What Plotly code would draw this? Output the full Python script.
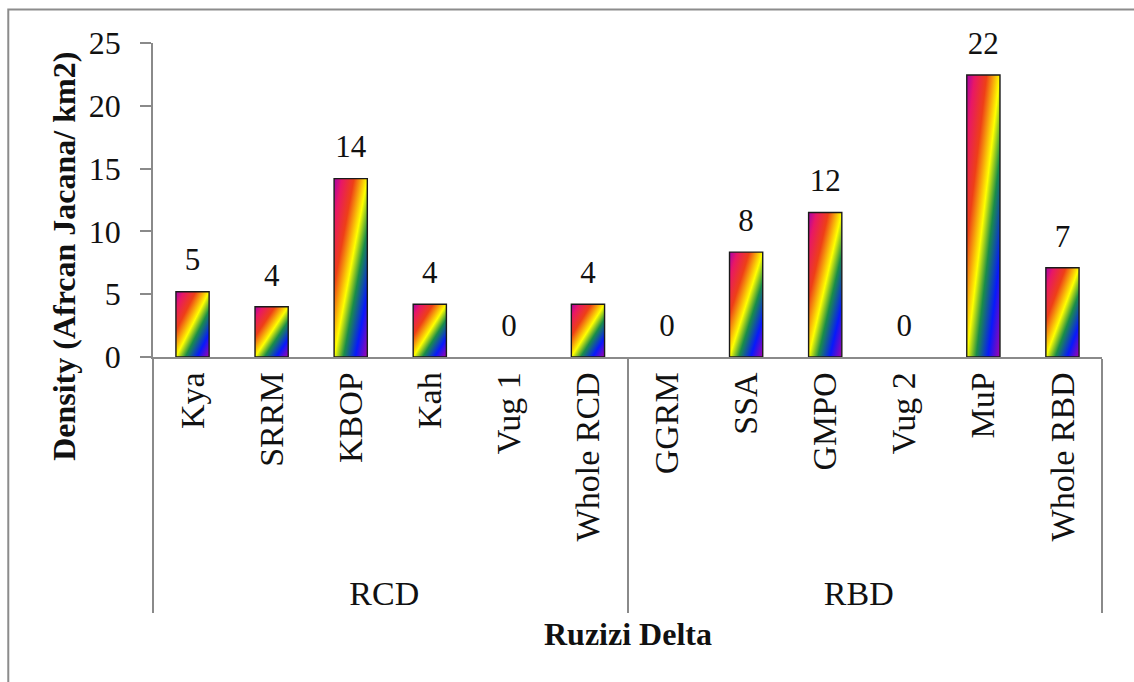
import base64
import plotly.graph_objects as go

# ---- data ----
groups = ["RCD"] * 6 + ["RBD"] * 6
sites = ["Kya", "SRRM", "KBOP", "Kah", "Vug 1", "Whole RCD",
         "GGRM", "SSA", "GMPO", "Vug 2", "MuP", "Whole RBD"]
density = [5.2, 4.0, 14.2, 4.2, 0.0, 4.2,
           0.0, 8.35, 11.5, 0.0, 22.45, 7.1]
value_labels = ["5", "4", "14", "4", "0", "4",
                "0", "8", "12", "0", "22", "7"]
y_ticks = [0, 5, 10, 15, 20, 25]

# ---- styling ----
FONT = "Liberation Serif"
AXIS_GRAY = "#8a8a8a"
BAR_W = 0.42

rainbow_stops = [(0.00, "#A603AB"), (0.12, "#E81766"), (0.30, "#EE3F17"),
                 (0.50, "#FFFF00"), (0.64, "#1A8D48"), (0.82, "#0819FB"),
                 (1.00, "#A603AB")]
stops_svg = "".join(f'<stop offset="{o}" stop-color="{c}"/>' for o, c in rainbow_stops)
svg = ('<svg xmlns="http://www.w3.org/2000/svg" width="100" height="100" '
       'viewBox="0 0 100 100" preserveAspectRatio="none"><defs>'
       '<linearGradient id="g" x1="0" y1="0" x2="1" y2="1">' + stops_svg +
       '</linearGradient></defs><rect width="100" height="100" fill="url(#g)"/></svg>')
uri = "data:image/svg+xml;base64," + base64.b64encode(svg.encode()).decode()

fig = go.Figure()
fig.add_trace(go.Bar(
    x=[groups, sites], y=density, width=BAR_W,
    marker=dict(color="rgba(0,0,0,0)",
                line=dict(color="#1a1a1a", width=[1.4 if v > 0 else 0 for v in density])),
    hoverinfo="x+y", showlegend=False))
fig.add_trace(go.Scatter(
    x=[groups, sites], y=density, text=value_labels, mode="markers+text",
    marker=dict(size=20, opacity=0), textposition="top center",
    textfont=dict(family=FONT, size=31, color="#111"),
    cliponaxis=False, hoverinfo="skip", showlegend=False))

images = []
for i, v in enumerate(density):
    if v > 0:
        images.append(dict(source=uri, xref="x", yref="y", x=i, y=v,
                           sizex=BAR_W, sizey=v, xanchor="center", yanchor="top",
                           sizing="stretch", layer="below"))

fig.update_layout(
    width=1134, height=682,
    margin=dict(l=153, r=32, t=43, b=325),
    paper_bgcolor="white", plot_bgcolor="white",
    font=dict(family=FONT, size=32, color="#111"),
    images=images,
    xaxis=dict(type="multicategory", range=[-0.5, 11.5], autorange=False,
               showline=True, linecolor=AXIS_GRAY, linewidth=1.5,
               ticks="", tickangle=-90, showgrid=False,
               showdividers=True, dividercolor=AXIS_GRAY, dividerwidth=1.5,
               tickfont=dict(family=FONT, size=34, color="#111")),
    yaxis=dict(range=[0, 25], tickvals=y_ticks, showline=True, linecolor=AXIS_GRAY,
               linewidth=1.5, ticks="outside", ticklen=11, tickcolor=AXIS_GRAY,
               tickwidth=1.5, showgrid=False, zeroline=False, ticklabelstandoff=13,
               tickfont=dict(family=FONT, size=32, color="#111")),
    annotations=[
        dict(text="<b>Density (Afrcan Jacana/ km2)</b>", textangle=-90,
             xref="paper", yref="paper", x=-0.0945, y=0.32,
             xanchor="center", yanchor="middle", showarrow=False,
             font=dict(family=FONT, size=32, color="#111")),
        dict(text="<b>Ruzizi Delta</b>", xref="paper", yref="paper",
             x=0.5, y=-0.882, xanchor="center", yanchor="middle", showarrow=False,
             font=dict(family=FONT, size=32, color="#111")),
    ],
    shapes=[dict(type="rect", xref="paper", yref="paper",
                 x0=-0.1525, y0=-1.3, x1=1.2, y1=1.1063,
                 line=dict(color="#8c8c8c", width=2), fillcolor="rgba(0,0,0,0)",
                 layer="below")],
)

fig.write_html("out.html", config={"displayModeBar": False},
               post_script="document.body.style.margin='0';")
